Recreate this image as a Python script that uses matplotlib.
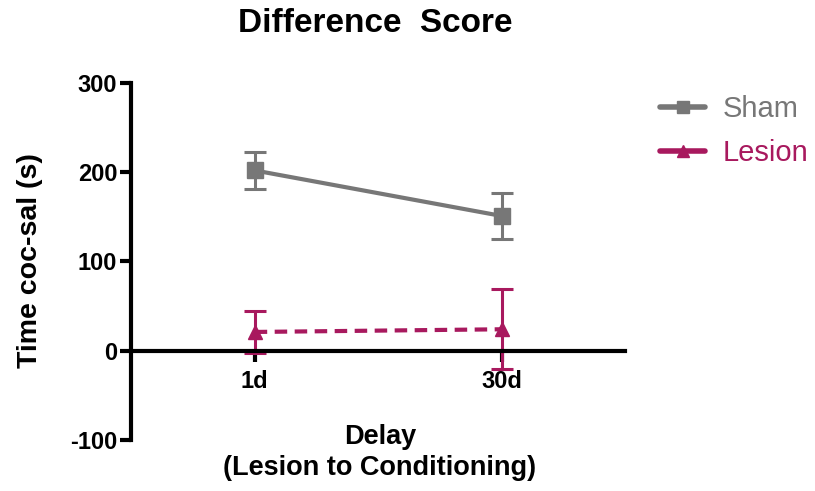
import matplotlib.pyplot as plt
from matplotlib.lines import Line2D

plt.rcParams['font.family'] = ['Liberation Sans', 'DejaVu Sans']
plt.rcParams['axes.unicode_minus'] = False

delays = ['1d', '30d']
sham_mean = [202, 151]
sham_err = [21, 26]
lesion_mean = [21, 24]
lesion_err = [24, 45]

gray = '#777777'
magenta = '#A8195E'

fig = plt.figure(figsize=(8.15, 4.91), dpi=100)
ax = fig.add_axes([0.161, 0.104, 0.606, 0.727])

x = [1, 2]
ax.errorbar(x, sham_mean, yerr=sham_err, color=gray, lw=3, marker='s', ms=11,
            capsize=8, elinewidth=2.2, capthick=2.2)
ax.errorbar(x, lesion_mean, yerr=lesion_err, color=magenta, lw=3, ls=(0, (3, 1.8)),
            marker='^', ms=10, capsize=8, elinewidth=2.2, capthick=2.2)

ax.set_xlim(0.5, 2.5)
ax.set_ylim(-100, 300)
ax.set_xticks(x)
ax.set_xticklabels(delays)
ax.set_yticks([-100, 0, 100, 200, 300])

for s in ['top', 'right']:
    ax.spines[s].set_visible(False)
ax.spines['bottom'].set_position(('data', 0))
ax.spines['left'].set_linewidth(3)
ax.spines['bottom'].set_linewidth(3)
ax.tick_params(width=3, length=8, labelsize=17, pad=2)
ax.tick_params(axis='x', pad=6)
for lab in ax.get_xticklabels() + ax.get_yticklabels():
    lab.set_fontweight('bold')

fig.text(0.037, 0.47, 'Time coc-sal (s)', rotation=90, ha='center', va='center',
         fontsize=20.5, fontweight='bold')
fig.text(0.466, 0.078, 'Delay\n(Lesion to Conditioning)', ha='center', va='center',
         fontsize=19.5, fontweight='bold', linespacing=1.25)
fig.text(0.461, 0.953, 'Difference  Score', ha='center', va='center',
         fontsize=24, fontweight='bold')

handles = [Line2D([], [], color=gray, lw=4, marker='s', ms=9, solid_capstyle='round'),
           Line2D([], [], color=magenta, lw=4, marker='^', ms=9, solid_capstyle='round')]
leg = ax.legend(handles, ['Sham', 'Lesion'], loc='upper left', bbox_to_anchor=(1.071, 0.966),
                frameon=False, fontsize=21, handlelength=1.55, handletextpad=0.6,
                labelspacing=0.55, borderpad=0, borderaxespad=0)
for t, c in zip(leg.get_texts(), [gray, magenta]):
    t.set_color(c)

fig.savefig('out.png', dpi=100)
